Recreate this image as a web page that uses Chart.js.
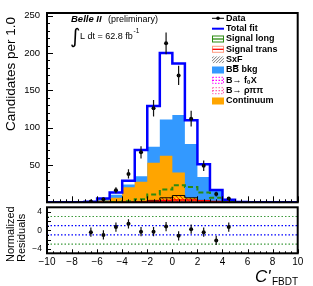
<!DOCTYPE html>
<html><head><meta charset="utf-8">
<script src="https://cdn.jsdelivr.net/npm/chart.js@4.4.0/dist/chart.umd.min.js"></script>
<style>
html,body{margin:0;padding:0;background:#fff;}
#wrap{position:relative;width:313px;height:286px;overflow:hidden;background:#fff;}
canvas{position:absolute;left:0;top:0;}
</style></head><body>
<div id="wrap"><canvas id="top" width="313" height="286"></canvas><canvas id="bot" width="313" height="286"></canvas></div>
<script>
// ---- data (bin width 1.0, 20 bins from -10 to 10) ----
const binCenters = [-9.5,-8.5,-7.5,-6.5,-5.5,-4.5,-3.5,-2.5,-1.5,-0.5,0.5,1.5,2.5,3.5,4.5,5.5,6.5,7.5,8.5,9.5];
const dataCounts = [null,null,null,1,4,16,38,67,126,213,170,112,49,11,5,null,null,null,null,null];
const dataErrors = [0,0,0,1,2,4,6.2,8.2,11.2,14.6,13,10.6,7,3.3,2.2,0,0,0,0,0];
const totalFit   = [0,0,0.2,0.8,5,13,29,70,129,200,186,110,51,16.5,3.5,0.5,0,0,0,0];
const continuum  = [0,0,0.1,0.5,2.5,6,20,27.5,53,62.5,40,4,1.5,0.5,0.2,0,0,0,0,0];
const bbBkg      = [0,0,0.1,0.3,1.5,4,4,7.5,21.5,48.5,77,74,32.5,14.5,2.8,0.4,0,0,0,0];
const signalLong = [0,0,0,0,0,0.5,1.5,4,10.5,17,23,20.5,13,6,1.5,0.3,0,0,0,0];
const signalTrans= [0,0,0,0,0,0,0.2,0.5,1.5,2.5,3,3,2,1,0.3,0,0,0,0,0];
const sxfComp    = [0,0,0,0,0,0,0.3,1,2.5,6,9,6,2.5,1,0.2,0,0,0,0,0];
const f0X        = [0,0,0,0,0,0,0,0.1,0.3,0.8,1,0.8,0.3,0.1,0,0,0,0,0,0];
const rhoPiPi    = [0,0,0,0,0,0,0,0.1,0.2,0.5,0.7,0.5,0.2,0.1,0,0,0,0,0,0];
const residuals     = [null,null,null,-0.4,-1.0,0.7,1.4,-0.3,-0.3,0.8,-1.2,0.25,-0.4,-2.2,0.7,null,null,null,null,null];
const residualErrors= [0,0,0,1,1,1,1,1,1,1,1,1,1,1,1,0,0,0,0,0];
const yTicksTop = [50,100,150,200,250];
const yTicksRes = [-4,-2,0,2,4];
const xTicks = [-10,-8,-6,-4,-2,0,2,4,6,8,10];
const resBands = [-3,-1,1,3];

const FONT = '"Liberation Sans", Arial, Helvetica, sans-serif';
const BIN_W = 1.0;
// points at each bin's left edge plus the final right edge; drawn with stepped:'before'
function steps(vals){
  const pts = vals.map((v,i)=>({x: binCenters[i]-BIN_W/2, y: v}));
  pts.push({x: binCenters[vals.length-1]+BIN_W/2, y: vals[vals.length-1]});
  return pts;
}
const bbCum = bbBkg.map((v,i)=>v+continuum[i]);
const dataPts = binCenters.map((c,i)=>({x:c,y:dataCounts[i],e:dataErrors[i]})).filter(p=>p.y!==null);
const resPts = binCenters.map((c,i)=>({x:c,y:residuals[i],e:residualErrors[i]})).filter(p=>p.y!==null);

// hatch pattern for SxF
const topCanvas = document.getElementById('top');
const pc = document.createElement('canvas'); pc.width=4; pc.height=4;
const pg = pc.getContext('2d');
pg.fillStyle='#ffb400'; pg.fillRect(0,0,4,4);
pg.fillStyle='#ff2a00'; pg.fillRect(0,0,1,1); pg.fillRect(1,1,1,1); pg.fillRect(2,2,1,1); pg.fillRect(3,3,1,1);
pg.fillStyle='#ffe000'; pg.fillRect(2,0,1,1); pg.fillRect(0,2,1,1);
const hatch = topCanvas.getContext('2d').createPattern(pc,'repeat');

function drawTicks(ctx, chart, xMajor, xMinorStep, yMajor, yMinorStep, yMin, yMax, lenMajX, lenMinX, lenMajY, lenMinY){
  const a = chart.chartArea, xs = chart.scales.x, ys = chart.scales.y;
  ctx.save(); ctx.strokeStyle='#000'; ctx.lineWidth=1; ctx.beginPath();
  for(let v=-10; v<=10.0001; v+=xMinorStep){
    const isMaj = xMajor.some(m=>Math.abs(m-v)<1e-6);
    const px = Math.round(xs.getPixelForValue(v))+0.5;
    const L = isMaj?lenMajX:lenMinX;
    ctx.moveTo(px,a.bottom); ctx.lineTo(px,a.bottom-L);
  }
  for(let v=yMin; v<=yMax+1e-6; v+=yMinorStep){
    const isMaj = yMajor.some(m=>Math.abs(m-v)<1e-6);
    const py = Math.round(ys.getPixelForValue(v))+0.5;
    const L = isMaj?lenMajY:lenMinY;
    ctx.moveTo(a.left,py); ctx.lineTo(a.left+L,py);
  }
  ctx.stroke(); ctx.restore();
}
function drawErrBars(ctx, chart, pts){
  const xs = chart.scales.x, ys = chart.scales.y;
  ctx.save(); ctx.strokeStyle='#111'; ctx.lineWidth=1.2; ctx.beginPath();
  pts.forEach(p=>{ const px=xs.getPixelForValue(p.x);
    ctx.moveTo(px, ys.getPixelForValue(p.y-p.e)); ctx.lineTo(px, ys.getPixelForValue(p.y+p.e)); });
  ctx.stroke(); ctx.restore();
}
function frame(ctx, a){
  ctx.save(); ctx.strokeStyle='#000'; ctx.lineWidth=2;
  ctx.strokeRect(a.left, a.top, a.right-a.left, a.bottom-a.top); ctx.restore();
}

const topPlugin = {
  id:'topDeco',
  afterDatasetsDraw(chart){
    const ctx = chart.ctx, a = chart.chartArea;
    drawErrBars(ctx, chart, dataPts);
    drawTicks(ctx, chart, xTicks, 0.5, [0,50,100,150,200,250], 10, 0, 250, 6, 3, 6, 3);
    frame(ctx, a);
    // texts
    ctx.save(); ctx.fillStyle='#000'; ctx.textBaseline='alphabetic';
    ctx.font = 'italic bold 9.5px '+FONT; ctx.fillText('Belle II', 71, 22);
    ctx.font = '9px '+FONT; ctx.fillText('(preliminary)', 108, 22);
    ctx.font = '20px "DejaVu Sans", '+FONT; ctx.textBaseline='middle'; ctx.fillText('\u222B', 70, 38);
    ctx.textBaseline='alphabetic';
    ctx.font = '9px '+FONT; ctx.fillText('L dt = 62.8 fb', 80, 39);
    ctx.font = '6.5px '+FONT; ctx.fillText('-1', 133.5, 32.5);
    // y title
    ctx.save(); ctx.translate(11.5, 17); ctx.rotate(-Math.PI/2);
    ctx.font = '13.5px '+FONT; ctx.textAlign='right'; ctx.textBaseline='middle';
    ctx.fillText('Candidates per 1.0', 0, 0); ctx.restore();
    // legend
    const sx = 212, sw = 12, tx = 226;
    const rows = [18.3,28.7,39,49.3,59.7,70,80.3,90.7,101];
    ctx.font = 'bold 9px '+FONT; ctx.textBaseline='middle'; ctx.textAlign='left';
    const labels = ['Data','Total fit','Signal long','Signal trans','SxF',null,null,null,'Continuum'];
    labels.forEach((t,i)=>{ if(t) ctx.fillText(t, tx, rows[i]); });
    // BB bkg
    ctx.fillText('BB bkg', tx, rows[5]);
    const wB = ctx.measureText('B').width;
    ctx.lineWidth=1; ctx.strokeStyle='#000'; ctx.beginPath();
    ctx.moveTo(tx+wB+0.5, rows[5]-4.5); ctx.lineTo(tx+2*wB-0.5, rows[5]-4.5); ctx.stroke();
    // B -> f0 X
    let s1 = 'B\u2192 f'; ctx.fillText(s1, tx, rows[6]);
    let w1 = ctx.measureText(s1).width;
    ctx.font = 'bold 6px '+FONT; ctx.fillText('0', tx+w1, rows[6]+2.5);
    let w0 = ctx.measureText('0').width;
    ctx.font = 'bold 9px '+FONT; ctx.fillText('X', tx+w1+w0+0.5, rows[6]);
    ctx.fillText('B\u2192 \u03C1\u03C0\u03C0', tx, rows[7]);
    // symbols
    ctx.strokeStyle='#000'; ctx.lineWidth=1; ctx.beginPath(); ctx.moveTo(sx, rows[0]); ctx.lineTo(sx+sw, rows[0]); ctx.stroke();
    ctx.beginPath(); ctx.arc(sx+sw/2, rows[0], 1.8, 0, 2*Math.PI); ctx.fillStyle='#000'; ctx.fill();
    ctx.strokeStyle='#0000ff'; ctx.lineWidth=2; ctx.beginPath(); ctx.moveTo(sx, rows[1]); ctx.lineTo(sx+sw, rows[1]); ctx.stroke();
    function box(row, stroke, fill, dash, mid, midColor){
      const y0 = rows[row]-3.5;
      if(fill){ ctx.fillStyle=fill; ctx.fillRect(sx, y0, sw, 7); }
      if(stroke){ ctx.setLineDash(dash||[]); ctx.strokeStyle=stroke; ctx.lineWidth=1; ctx.strokeRect(sx+0.5, y0+0.5, sw-1, 6); }
      if(mid){ ctx.strokeStyle=midColor; ctx.lineWidth=1.3; ctx.beginPath(); ctx.moveTo(sx+0.5, rows[row]); ctx.lineTo(sx+sw-0.5, rows[row]); ctx.stroke(); }
      ctx.setLineDash([]);
    }
    box(2, '#2b8a10', null, null, true, '#2b8a10');
    box(3, '#ff9a80', null, null, true, '#ff0000');
    // SxF hatched symbol
    ctx.save(); ctx.beginPath(); ctx.rect(sx, rows[4]-3.5, sw, 7); ctx.clip();
    ctx.strokeStyle='#555'; ctx.lineWidth=0.8; ctx.beginPath();
    for(let k=-8;k<16;k+=3){ ctx.moveTo(sx+k, rows[4]+3.5); ctx.lineTo(sx+k+7, rows[4]-3.5); }
    ctx.stroke(); ctx.restore();
    box(5, null, '#3399ff');
    box(6, '#ff00ff', null, [1.5,1.5], true, '#ff00ff');
    box(7, '#ff5fb0', null, [1.5,1.5], true, '#ff5fb0');
    box(8, null, '#ffa500');
    ctx.restore();
  }
};

const STEP = 'before';
new Chart(topCanvas, {
  type:'line',
  data:{datasets:[
    {label:'Data', data:dataPts, showLine:false, pointRadius:2, pointBackgroundColor:'#000', pointBorderColor:'#000', pointBorderWidth:0, order:0},
    {label:'Total fit', data:steps(totalFit), stepped:STEP, borderColor:'#0000ff', borderWidth:2.5, pointRadius:0, fill:false, order:1},
    {label:'Signal long', data:steps(signalLong), stepped:STEP, borderColor:'#2b8a10', borderWidth:2, borderDash:[5,3], pointRadius:0, fill:false, order:2},
    {label:'Signal trans', data:steps(signalTrans), stepped:STEP, borderColor:'#ff0000', borderWidth:1.5, pointRadius:0, fill:false, order:3},
    {label:'B->f0X', data:steps(f0X), stepped:STEP, borderColor:'#ff00ff', borderWidth:1, borderDash:[1.5,1.5], pointRadius:0, fill:false, order:4},
    {label:'B->rhopipi', data:steps(rhoPiPi), stepped:STEP, borderColor:'#ff5fb0', borderWidth:1, borderDash:[1.5,1.5], pointRadius:0, fill:false, order:5},
    {label:'SxF', data:steps(sxfComp), stepped:STEP, borderColor:'#000', borderWidth:1, backgroundColor:hatch, fill:'origin', pointRadius:0, order:6},
    {label:'Continuum', data:steps(continuum), stepped:STEP, borderColor:'rgba(0,0,0,0)', borderWidth:0.01, backgroundColor:'#ffa500', fill:'origin', pointRadius:0, order:7},
    {label:'BB bkg', data:steps(bbCum), stepped:STEP, borderColor:'rgba(0,0,0,0)', borderWidth:0.01, backgroundColor:'#3399ff', fill:'origin', pointRadius:0, order:8}
  ]},
  options:{
    responsive:false, animation:false, events:[],
    layout:{padding:{left:0,right:15.3,top:13,bottom:83.7}},
    plugins:{legend:{display:false}, tooltip:{enabled:false}},
    scales:{
      x:{type:'linear', min:-10, max:10, display:false},
      y:{type:'linear', min:0, max:253.6,
         afterFit(a){a.width=47;},
         afterBuildTicks(a){a.ticks=yTicksTop.map(v=>({value:v}));},
         grid:{display:false, drawTicks:false}, border:{display:false},
         ticks:{font:{family:FONT,size:9.5}, color:'#000', padding:7}}
    }
  },
  plugins:[topPlugin]
});

const botPlugin = {
  id:'botDeco',
  afterDatasetsDraw(chart){
    const ctx = chart.ctx, a = chart.chartArea;
    drawErrBars(ctx, chart, resPts);
    drawTicks(ctx, chart, xTicks, 0.5, yTicksRes, 1, -5, 5, 4, 2, 4, 2);
    frame(ctx, a);
    ctx.save(); ctx.fillStyle='#000';
    ctx.font = '11px '+FONT; ctx.textAlign='left'; ctx.textBaseline='middle';
    ctx.save(); ctx.translate(10.5, 262); ctx.rotate(-Math.PI/2); ctx.fillText('Normalized', 0, 0); ctx.restore();
    ctx.save(); ctx.translate(22, 262); ctx.rotate(-Math.PI/2); ctx.fillText('Residuals', 0, 0); ctx.restore();
    ctx.textBaseline='alphabetic';
    ctx.font = 'italic 17px '+FONT; ctx.fillText("C'", 255, 282);
    ctx.font = '10px '+FONT; ctx.fillText('FBDT', 272, 284.5);
    ctx.restore();
  }
};

new Chart(document.getElementById('bot'), {
  type:'line',
  data:{datasets:[
    {label:'Residuals', data:resPts, showLine:false, pointRadius:2, pointBackgroundColor:'#000', pointBorderColor:'#000', pointBorderWidth:0, order:0},
    ...resBands.map(b=>({label:'band', data:[{x:-10,y:b},{x:10,y:b}], borderColor: Math.abs(b)===1?'#0000ff':'#3c9a3c', borderWidth:1.2, borderDash:[1.5,2], pointRadius:0, fill:false, order:2}))
  ]},
  options:{
    responsive:false, animation:false, events:[],
    layout:{padding:{left:0,right:15.3,top:207.3,bottom:0}},
    plugins:{legend:{display:false}, tooltip:{enabled:false}},
    scales:{
      x:{type:'linear', min:-10, max:10,
         afterFit(a){a.height=32.7;},
         afterBuildTicks(a){a.ticks=xTicks.map(v=>({value:v}));},
         grid:{display:false, drawTicks:false}, border:{display:false},
         ticks:{font:{family:FONT,size:10}, color:'#000', padding:3, maxRotation:0, autoSkip:false,
                callback:v=>(v<0?'\u2212':'')+Math.abs(v)}},
      y:{type:'linear', min:-5, max:5,
         afterFit(a){a.width=47;},
         afterBuildTicks(a){a.ticks=yTicksRes.map(v=>({value:v}));},
         grid:{display:false, drawTicks:false}, border:{display:false},
         ticks:{font:{family:FONT,size:8.5}, color:'#000', padding:5,
                callback:v=>(v<0?'\u2212':'')+Math.abs(v)}}
    }
  },
  plugins:[botPlugin]
});
</script></body></html>
